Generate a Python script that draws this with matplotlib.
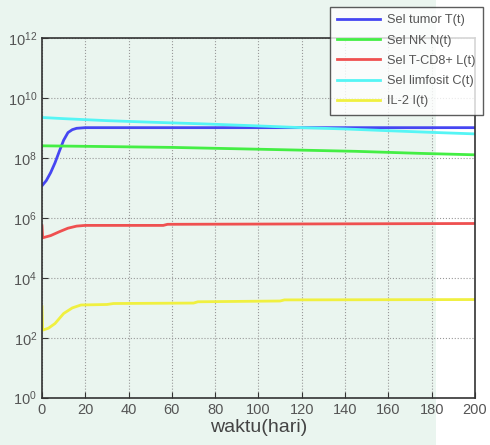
import numpy as np
import matplotlib
matplotlib.use('Agg')
import matplotlib.pyplot as plt
from matplotlib.patches import Rectangle

plt.rcParams['font.family'] = ['Liberation Sans', 'DejaVu Sans']
plt.rcParams['mathtext.default'] = 'regular'

# waktu (hari) dan nilai tiap populasi
t_tumor = [0, 2, 4, 6, 8, 10, 12, 14, 16, 20, 200]
tumor = [1.2e7, 1.8e7, 3.3e7, 7e7, 1.7e8, 4e8, 7.2e8, 9e8, 1e9, 1.05e9, 1.05e9]

t_nk = [0, 30, 60, 100, 145, 175, 200]
nk = [2.6e8, 2.45e8, 2.3e8, 2.0e8, 1.7e8, 1.45e8, 1.3e8]

t_cd8 = [0, 0.3, 4, 8, 12, 16, 20, 56, 58, 200]
cd8 = [5.5e5, 2.2e5, 2.6e5, 3.5e5, 4.6e5, 5.4e5, 5.7e5, 5.7e5, 6.2e5, 6.6e5]

t_limf = [0, 10, 30, 50, 75, 100, 120, 140, 160, 180, 200]
limf = [2.3e9, 2.1e9, 1.8e9, 1.6e9, 1.4e9, 1.2e9, 1.05e9, 9.5e8, 8.3e8, 7.3e8, 6.5e8]

t_il2 = [0, 0.3, 3, 6, 10, 14, 18, 30, 33, 70, 72, 110, 112, 200]
il2 = [1100, 180, 210, 300, 650, 1000, 1250, 1300, 1400, 1450, 1600, 1700, 1850, 1900]

labels = ['Sel tumor T(t)', 'Sel NK N(t)', 'Sel T-CD8+ L(t)',
          'Sel limfosit C(t)', 'IL-2 I(t)']
colors = ['#4646f2', '#44ee44', '#ef5050', '#55f5f5', '#f0f040']

bg = '#eaf5ef'
fig = plt.figure(figsize=(4.9, 4.45), dpi=100, facecolor=bg)
# bagian kanan gambar berlatar putih
fig.patches.append(Rectangle((0.89, 0), 0.11, 1, transform=fig.transFigure,
                             facecolor='white', edgecolor='none', zorder=-5))
ax = fig.add_axes([0.0857, 0.1063, 0.8837, 0.8072])
ax.set_facecolor('none')

series = [(t_tumor, tumor), (t_nk, nk), (t_cd8, cd8), (t_limf, limf), (t_il2, il2)]
for (tt, yy), lab, c in zip(series, labels, colors):
    ax.plot(tt, yy, color=c, lw=2, label=lab)

ax.set_yscale('log')
ax.set_xlim(0, 200)
ax.set_ylim(1, 1e12)
ax.set_xticks(np.arange(0, 201, 20))
ax.set_yticks([10.0**k for k in range(0, 13, 2)])
ax.minorticks_off()
ax.tick_params(direction='in', labelsize=10.5, colors='#333333',
               labelcolor='#555555', length=4)
ax.grid(True, color='#999999', lw=0.8, ls=':')
for s in ax.spines.values():
    s.set_color('#333333')
    s.set_linewidth(1.2)

ax.set_xlabel('waktu(hari)', fontsize=14, color='#444444', labelpad=2)

leg = ax.legend(loc='upper right', bbox_to_anchor=(1.018, 1.087), fontsize=9.2,
                frameon=True, fancybox=False, edgecolor='#333333',
                handlelength=3.3, handletextpad=0.6, labelspacing=0.65,
                borderpad=0.55, borderaxespad=0.0)
leg.get_frame().set_linewidth(1.0)
leg.get_frame().set_facecolor('white')
for txt in leg.get_texts():
    txt.set_color('#555555')

plt.savefig('out.png', dpi=100, facecolor=fig.get_facecolor())
